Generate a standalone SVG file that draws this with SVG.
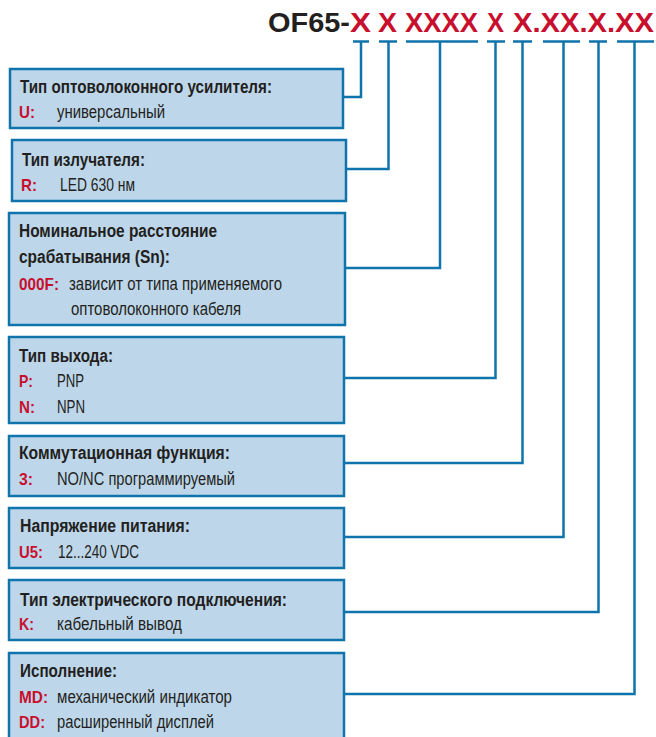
<svg xmlns="http://www.w3.org/2000/svg" width="656" height="737" viewBox="0 0 656 737">
<style>
.box{fill:#bdd6ea;stroke:#0f74ab;stroke-width:2.5}
.ln{fill:none;stroke:#0f74ab;stroke-width:2.5}
.t{font-family:"Liberation Sans",Arial,sans-serif;font-weight:bold;font-size:17.5px;fill:#231f20}
.c{font-family:"Liberation Sans",Arial,sans-serif;font-weight:bold;font-size:17px;fill:#c8102e}
.v{font-family:"Liberation Sans",Arial,sans-serif;font-size:17.5px;fill:#231f20}
.h{font-family:"Liberation Sans",Arial,sans-serif;font-weight:bold;font-size:27px}
</style>
<rect width="656" height="737" fill="#ffffff"/>
<g id="title">
<text class="h" x="268" y="32" fill="#231f20" textLength="82" lengthAdjust="spacingAndGlyphs">OF65-</text>
<text class="h" x="350" y="32" fill="#c8102e" textLength="21" lengthAdjust="spacingAndGlyphs">X</text>
<text class="h" x="378" y="32" fill="#c8102e" textLength="19" lengthAdjust="spacingAndGlyphs">X</text>
<text class="h" x="405" y="32" fill="#c8102e" textLength="73" lengthAdjust="spacingAndGlyphs">XXXX</text>
<text class="h" x="487" y="32" fill="#c8102e" textLength="17" lengthAdjust="spacingAndGlyphs">X</text>
<text class="h" x="513" y="32" fill="#c8102e" textLength="141" lengthAdjust="spacingAndGlyphs">X.XX.X.XX</text>
</g>
<g id="connectors">
<path class="ln" d="M353 41.5H369M361 41.5V97H344"/>
<path class="ln" d="M379 41.5H397M388.5 41.5V169H346"/>
<path class="ln" d="M406 41.5H478M440 41.5V268H345"/>
<path class="ln" d="M487 41.5H505M495.5 41.5V378H344"/>
<path class="ln" d="M513 41.5H532M522.5 41.5V463H344"/>
<path class="ln" d="M543 41.5H580M563.5 41.5V537H344"/>
<path class="ln" d="M589 41.5H607M598.5 41.5V612H344"/>
<path class="ln" d="M617 41.5H654M634.5 41.5V694H344"/>
</g>
<g id="n1">
<rect class="box" x="10" y="69" width="333" height="59"/>
<text class="t" x="20" y="93" textLength="252" lengthAdjust="spacingAndGlyphs">Тип оптоволоконного усилителя:</text>
<text class="c" x="19" y="118" textLength="16" lengthAdjust="spacingAndGlyphs">U:</text>
<text class="v" x="57" y="118" textLength="108" lengthAdjust="spacingAndGlyphs">универсальный</text>
</g>
<g id="n2">
<rect class="box" x="12" y="140" width="334" height="61"/>
<text class="t" x="22" y="166" textLength="123" lengthAdjust="spacingAndGlyphs">Тип излучателя:</text>
<text class="c" x="21" y="191" textLength="16" lengthAdjust="spacingAndGlyphs">R:</text>
<text class="v" x="60" y="191" textLength="75" lengthAdjust="spacingAndGlyphs">LED 630 нм</text>
</g>
<g id="n3">
<rect class="box" x="9" y="213" width="336" height="112"/>
<text class="t" x="19" y="237" textLength="198" lengthAdjust="spacingAndGlyphs">Номинальное расстояние</text>
<text class="t" x="19" y="263" textLength="151" lengthAdjust="spacingAndGlyphs">срабатывания (Sn):</text>
<text class="c" x="19" y="290" textLength="40" lengthAdjust="spacingAndGlyphs">000F:</text>
<text class="v" x="69" y="290" textLength="213" lengthAdjust="spacingAndGlyphs">зависит от типа применяемого</text>
<text class="v" x="71" y="315" textLength="170" lengthAdjust="spacingAndGlyphs">оптоволоконного кабеля</text>
</g>
<g id="n4">
<rect class="box" x="9" y="337" width="335" height="86"/>
<text class="t" x="19" y="362" textLength="94" lengthAdjust="spacingAndGlyphs">Тип выхода:</text>
<text class="c" x="19" y="387" textLength="14" lengthAdjust="spacingAndGlyphs">P:</text>
<text class="v" x="57" y="387" textLength="27" lengthAdjust="spacingAndGlyphs">PNP</text>
<text class="c" x="19" y="413" textLength="16" lengthAdjust="spacingAndGlyphs">N:</text>
<text class="v" x="57" y="413" textLength="28" lengthAdjust="spacingAndGlyphs">NPN</text>
</g>
<g id="n5">
<rect class="box" x="9" y="436" width="335" height="60"/>
<text class="t" x="19" y="459" textLength="211" lengthAdjust="spacingAndGlyphs">Коммутационная функция:</text>
<text class="c" x="19" y="485" textLength="14" lengthAdjust="spacingAndGlyphs">3:</text>
<text class="v" x="57" y="485" textLength="178" lengthAdjust="spacingAndGlyphs">NO/NC программируемый</text>
</g>
<g id="n6">
<rect class="box" x="9" y="508" width="335" height="60"/>
<text class="t" x="20" y="532" textLength="170" lengthAdjust="spacingAndGlyphs">Напряжение питания:</text>
<text class="c" x="19" y="558" textLength="24" lengthAdjust="spacingAndGlyphs">U5:</text>
<text class="v" x="58" y="558" textLength="81" lengthAdjust="spacingAndGlyphs">12...240 VDC</text>
</g>
<g id="n7">
<rect class="box" x="9" y="580" width="335" height="60"/>
<text class="t" x="20" y="606" textLength="267" lengthAdjust="spacingAndGlyphs">Тип электрического подключения:</text>
<text class="c" x="19" y="630" textLength="15" lengthAdjust="spacingAndGlyphs">K:</text>
<text class="v" x="57" y="630" textLength="125" lengthAdjust="spacingAndGlyphs">кабельный вывод</text>
</g>
<g id="n8">
<rect class="box" x="9" y="653" width="335" height="100"/>
<text class="t" x="20" y="677" textLength="97" lengthAdjust="spacingAndGlyphs">Исполнение:</text>
<text class="c" x="19" y="703" textLength="29" lengthAdjust="spacingAndGlyphs">MD:</text>
<text class="v" x="57" y="703" textLength="175" lengthAdjust="spacingAndGlyphs">механический индикатор</text>
<text class="c" x="19" y="728" textLength="26" lengthAdjust="spacingAndGlyphs">DD:</text>
<text class="v" x="57" y="728" textLength="157" lengthAdjust="spacingAndGlyphs">расширенный дисплей</text>
</g>
</svg>
